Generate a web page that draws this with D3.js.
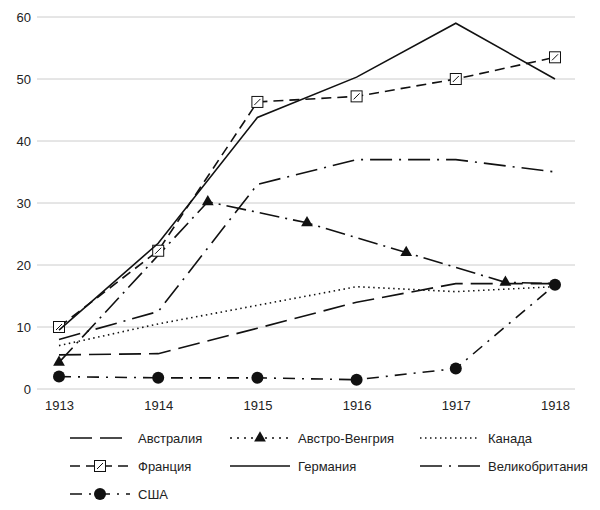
<!DOCTYPE html><html><head><meta charset="utf-8"><script src="https://cdn.jsdelivr.net/npm/d3@7"></script>
<style>body{margin:0;background:#fff}text{font-family:"Liberation Sans",Arial,sans-serif}</style></head><body><svg id="c" width="600" height="510"></svg><script>
const years=[1913,1914,1915,1916,1917,1918];
const yTicks=[0,10,20,30,40,50,60];
const australia=[[1913,5.5],[1914,5.7],[1915,9.8],[1916,14],[1917,17],[1918,17]];
const austria=[[1913,4.3],[1914.5,30.2],[1915.5,26.8],[1916.5,22],[1917.5,17.2],[1918,17]];
const canada=[[1913,7],[1914,10.5],[1915,13.5],[1916,16.5],[1917,15.7],[1918,16.5]];
const france=[[1913,10],[1914,22.3],[1915,46.3],[1916,47.2],[1917,50],[1918,53.5]];
const germany=[[1913,9.5],[1914,23.5],[1915,43.8],[1916,50.3],[1917,59],[1918,50]];
const britain=[[1913,8],[1914,12.5],[1915,33],[1916,37],[1917,37],[1918,35]];
const usa=[[1913,2],[1914,1.8],[1915,1.8],[1916,1.5],[1917,3.3],[1918,16.8]];
const names=["Австралия","Австро-Венгрия","Канада","Франция","Германия","Великобритания","США"];
const series=[
 {n:names[0],d:australia,dash:"22,8",m:null},
 {n:names[1],d:austria,dash:"20,6,2,6",m:"tri",skipLast:true},
 {n:names[2],d:canada,dash:"1.5,3.5",m:null},
 {n:names[3],d:france,dash:"10,6",m:"sq"},
 {n:names[4],d:germany,dash:null,m:null},
 {n:names[5],d:britain,dash:"22,7,2,7",m:null},
 {n:names[6],d:usa,dash:"12,7,2,7",m:"circ"}];
const svg=d3.select("#c");
const x=d3.scaleLinear().domain([1913,1918]).range([59,555]);
const y=d3.scaleLinear().domain([0,60]).range([389,17]);
svg.append("g").selectAll("line").data(yTicks).join("line").attr("x1",37).attr("x2",575).attr("y1",d=>y(d)).attr("y2",d=>y(d)).attr("stroke","#ccc");
const ya=svg.append("g").attr("transform","translate(37,0)").call(d3.axisLeft(y).tickValues(yTicks).tickSize(0).tickPadding(6));
ya.select(".domain").remove();ya.selectAll("text").attr("font-size",13).attr("fill","#222");
const xa=svg.append("g").attr("transform","translate(0,389)").call(d3.axisBottom(x).tickValues(years).tickFormat(d3.format("d")).tickSize(0).tickPadding(12));
xa.select(".domain").remove();xa.selectAll("text").attr("font-size",13).attr("fill","#222");
const line=d3.line().x(d=>x(d[0])).y(d=>y(d[1]));
function marker(g,type,cx,cy){
 if(type=="tri")g.append("path").attr("d",d3.symbol(d3.symbolTriangle,60)()).attr("transform",`translate(${cx},${cy})`).attr("fill","#111");
 if(type=="sq"){g.append("rect").attr("x",cx-5.5).attr("y",cy-5.5).attr("width",11).attr("height",11).attr("fill","#fff").attr("stroke","#111");g.append("line").attr("x1",cx-3).attr("x2",cx+3).attr("y1",cy+3).attr("y2",cy-3).attr("stroke","#111");}
 if(type=="circ")g.append("circle").attr("cx",cx).attr("cy",cy).attr("r",6).attr("fill","#111");
}
const g=svg.append("g");
series.forEach(s=>{
 g.append("path").attr("d",line(s.d)).attr("fill","none").attr("stroke","#111").attr("stroke-width",1.6).attr("stroke-dasharray",s.dash);
 if(s.m)(s.skipLast?s.d.slice(0,-1):s.d).forEach(d=>marker(g,s.m,x(d[0]),y(d[1])));
});
const lg=svg.append("g");
const pos=[[70,438],[230,438],[420,438],[70,466],[230,466],[420,466],[70,494]];
series.forEach((s,i)=>{
 const [lx,ly]=pos[i];
 lg.append("line").attr("x1",lx).attr("x2",lx+60).attr("y1",ly).attr("y2",ly).attr("stroke","#111").attr("stroke-width",1.6).attr("stroke-dasharray",i==1?"2,5":s.dash);
 if(s.m)marker(lg,s.m,lx+30,ly);
 lg.append("text").attr("x",lx+68).attr("y",ly+5).attr("font-size",13).attr("fill","#222").text(s.n);
});
</script></body></html>
